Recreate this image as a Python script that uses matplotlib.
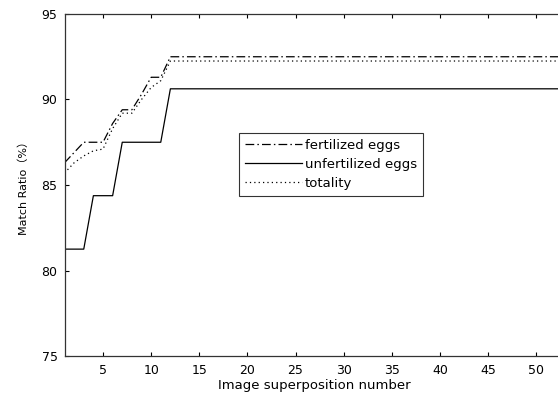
import matplotlib
matplotlib.use('Agg')
import matplotlib.pyplot as plt
import numpy as np

plt.rcParams['font.family'] = ['DejaVu Sans', 'Noto Sans CJK SC']

# match ratio vs number of superposed images
n_images = np.arange(1, 54)
fertilized_head = [86.3, 86.9, 87.5, 87.5, 87.5, 88.6, 89.4, 89.4, 90.3, 91.3, 91.3]
unfertilized_head = [81.25, 81.25, 81.25, 84.375, 84.375, 84.375, 87.5, 87.5, 87.5, 87.5, 87.5]
totality_head = [85.7, 86.3, 86.7, 87.0, 87.1, 88.3, 89.2, 89.2, 90.0, 90.7, 91.1]
fertilized_rest = 92.5
unfertilized_rest = 90.625
totality_rest = 92.25

n_rest = len(n_images) - len(fertilized_head)
fertilized = fertilized_head + [fertilized_rest] * n_rest
unfertilized = unfertilized_head + [unfertilized_rest] * n_rest
totality = totality_head + [totality_rest] * n_rest

fig = plt.figure(figsize=(5.58, 4.0), dpi=100)
ax = fig.add_axes([0.1156, 0.11, 0.897, 0.855])

ax.plot(n_images, fertilized, color='black', linestyle=(0, (7, 2.5, 1.2, 2.5)), linewidth=0.9, label='fertilized eggs')
ax.plot(n_images, unfertilized, color='black', linestyle='-', linewidth=0.9, label='unfertilized eggs')
ax.plot(n_images, totality, color='black', linestyle=(0, (1, 2.5)), linewidth=0.9, label='totality')

ax.set_xlim(1, 53)
ax.set_ylim(75, 95)
ax.set_xticks(np.arange(5, 55, 5))
ax.set_yticks(np.arange(75, 100, 5))
ax.tick_params(direction='in', length=3, width=0.8, labelsize=9, top=True, right=False)
ax.tick_params(axis='x', pad=6)
ax.tick_params(axis='y', pad=5)
for s in ax.spines.values():
    s.set_linewidth(0.9)
    s.set_color('#333333')
ax.spines['right'].set_visible(False)

ax.set_xlabel('Image superposition number', fontsize=9.5, labelpad=1)
ax.set_ylabel('Match Ratio（%）', fontsize=8, labelpad=9)

leg = ax.legend(loc='upper left', bbox_to_anchor=(0.349, 0.652), fontsize=9.5, frameon=True,
                fancybox=False, edgecolor='black', handlelength=4.3, handletextpad=0.2,
                borderpad=0.45, labelspacing=0.45, borderaxespad=0)
leg.get_frame().set_linewidth(0.8)

fig.savefig('out.png', dpi=100)
